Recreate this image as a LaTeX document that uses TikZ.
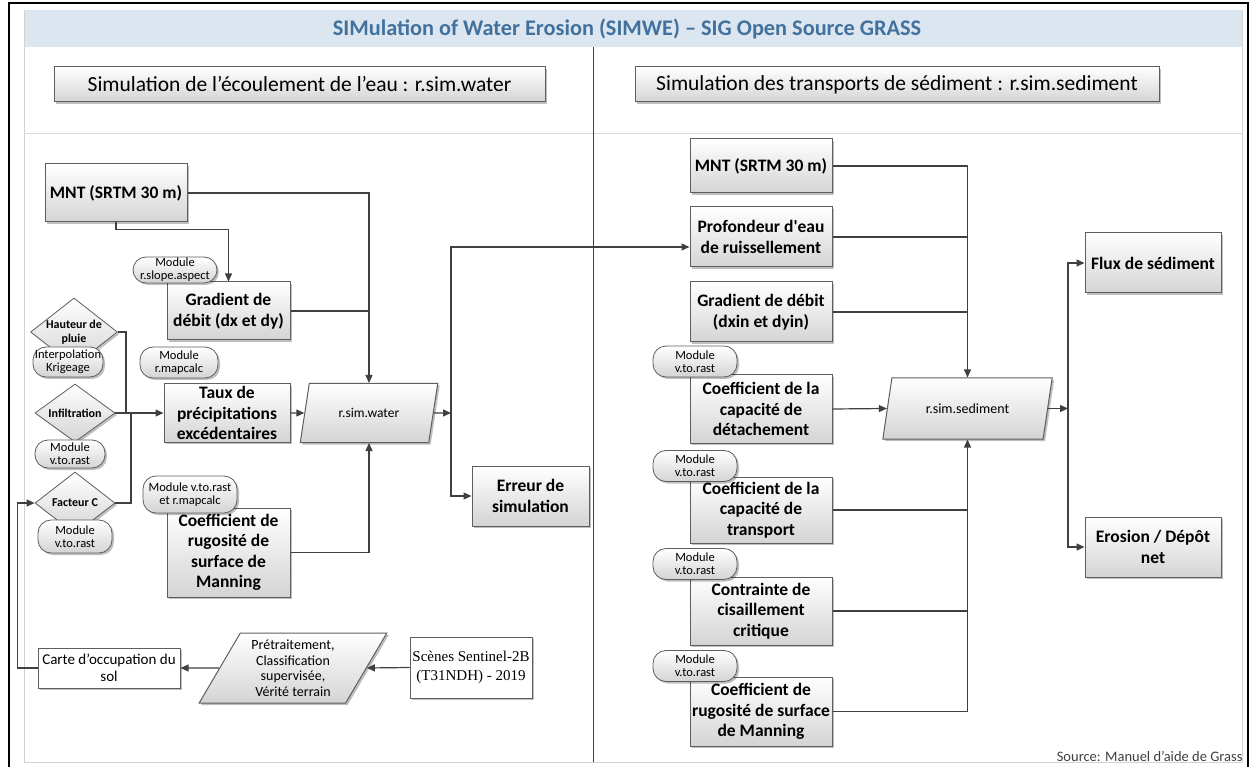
\documentclass[tikz,border=0pt]{standalone}
\usepackage{fontspec}
\setmainfont{Carlito}
\newfontfamily\scenefont{Liberation Serif}
\usepackage[dvipsnames]{xcolor}
\usepackage{tikz}
\usetikzlibrary{arrows.meta, shapes.geometric, shadows}

\definecolor{edgegray}{HTML}{5E5E5E}
\definecolor{wiregray}{HTML}{404040}
\definecolor{bandblue}{HTML}{DCE6F0}
\definecolor{titleblue}{HTML}{41719C}
\definecolor{lowgray}{HTML}{D4D4D4}

\tikzset{
  greyfill/.style={top color=white, bottom color=lowgray},
  lift/.style={drop shadow={shadow xshift=2pt, shadow yshift=-2pt, opacity=0.25, fill=black}},
  box/.style={draw=edgegray, line width=1pt, greyfill, lift, align=center, inner sep=0pt,
    font=\bfseries\fontsize{17.5}{20.5}\selectfont},
  headbox/.style={draw=edgegray, line width=1pt, greyfill, lift, inner sep=0pt,
    minimum height=35, font=\fontsize{21.5}{24}\selectfont},
  plainbox/.style={draw=edgegray, line width=1pt, fill=white, lift, align=center, inner sep=0pt},
  module/.style={draw=edgegray, line width=0.8pt, greyfill, lift, rounded corners=13pt,
    align=center, inner sep=0pt, font=\fontsize{12.5}{13}\selectfont},
  choice/.style={diamond, aspect=1.3, draw=edgegray, line width=0.8pt, greyfill, lift,
    align=center, inner sep=0pt, font=\bfseries\fontsize{12}{13.5}\selectfont},
  slanted/.style={trapezium, trapezium stretches=true, draw=edgegray, line width=1pt,
    greyfill, lift, align=center, inner sep=0pt},
  link/.style={draw=wiregray, line width=1.2pt},
  >={Triangle[length=8pt, width=7pt]}
}

\begin{document}
\begin{tikzpicture}[x=1pt, y=-1pt]
    \useasboundingbox (0, 0) rectangle (1251, 767);
    \fill [white] (0, 0) rectangle (1251, 767);

    \draw [gray!35, fill=white] (24, 10) rectangle (1242, 762);
    \fill [bandblue] (24.5, 10.5) rectangle (1241.5, 47);
    \draw [gray!30] (24, 133) -- (1242, 133);
    \draw [wiregray, line width=1pt] (593, 47) -- (593, 762);
    \draw [black, line width=2.5pt] (9, 767) -- (9, 3) -- (1248, 3) -- (1248, 767);

    \node [font=\bfseries\fontsize{22.3}{25}\selectfont, text=titleblue] (title) at (627, 29) {SIMulation of Water Erosion (SIMWE) – SIG Open Source GRASS};
    \node [headbox, minimum width=491] (headwater) at (299.5, 84.5) {Simulation de l’écoulement de l’eau : r.sim.water};
    \node [headbox, minimum width=524] (headsed) at (897, 84.5) {Simulation des transports de sédiment : r.sim.sediment};

    % r.sim.water
    \node [box, minimum width=142, minimum height=58] (mntw) at (116, 193) {MNT (SRTM 30 m)};
    \node [box, minimum width=123, minimum height=58] (gradw) at (228.5, 311) {Gradient de\\débit (dx et dy)};
    \node [box, minimum width=126, minimum height=58] (tauxw) at (227, 413) {Taux de\\précipitations\\excédentaires};
    \node [box, minimum width=123, minimum height=89] (coefw) at (228.5, 552.5) {Coefficient de\\rugosité de\\surface de\\Manning};
    \node [slanted, trapezium left angle=64, trapezium right angle=116, minimum width=138, minimum height=59,
        font=\fontsize{13.5}{15}\selectfont] (rsw) at (369, 413) {r.sim.water};
    \node [box, minimum width=117, minimum height=60] (erreur) at (530.5, 496) {Erreur de\\simulation};

    \node [choice, minimum width=82, minimum height=68] (hauteur) at (74, 332) {Hauteur de\\pluie};
    \node [choice, minimum width=80, minimum height=58] (infil) at (75, 413) {Infiltration};
    \node [choice, minimum width=80, minimum height=62] (facteur) at (75, 503) {Facteur C};

    \node [plainbox, minimum width=142, minimum height=40, font=\fontsize{15}{17}\selectfont] (carte) at (109, 668) {Carte d’occupation du\\sol};
    \node [slanted, trapezium left angle=60, trapezium right angle=120, minimum width=188, minimum height=70,
        font=\fontsize{14}{15.5}\selectfont] (pretrait) at (293, 668) {Prétraitement,\\Classification\\supervisée,\\Vérité terrain};
    \node [plainbox, minimum width=122, minimum height=61, font=\scenefont\fontsize{15}{19}\selectfont] (scenes) at (471, 667.5) {Scènes Sentinel-2B\\(T31NDH) - 2019};

    \coordinate (jh) at (126, 413);
    \coordinate (jf) at (131, 413);
    \coordinate (jw) at (451, 413);

    \draw [link, ->] (mntw.east) -| (rsw.north);
    \draw [link, ->] (mntw.south) -- ++(0, 7) -| (gradw.north);
    \draw [link] (gradw.east) -- (rsw.north |- gradw.east);
    \draw [link, ->] (coefw.east) -| (rsw.south);
    \draw [link, ->] (tauxw.east) -- (rsw.west);
    \draw [link, ->] (infil.east) -- (tauxw.west);
    \draw [link] (hauteur.east) -| (jh);
    \draw [link] (facteur.east) -| (jf);
    \draw [link, ->] (carte.west) -- ++(-20, 0) |- (facteur.west);
    \draw [link, ->] (pretrait.west) -- (carte.east);
    \draw [link, ->] (scenes.west) -- (pretrait.east);
    \draw [link, ->] (rsw.east) -- (jw);
    \draw [link, ->] (jw) |- (erreur.west);

    \node [module, minimum width=84, minimum height=26] (modslope) at (175, 270) {Module\\r.slope.aspect};
    \node [module, minimum width=78, minimum height=31] (modcalc) at (179, 362.5) {Module\\r.mapcalc};
    \node [module, minimum width=70, minimum height=30] (modkrig) at (68, 362) {Interpolation\\Krigeage};
    \node [module, minimum width=70, minimum height=28] (modinfil) at (70, 454) {Module\\v.to.rast};
    \node [module, minimum width=74, minimum height=33] (modfact) at (75, 536.5) {Module\\v.to.rast};
    \node [module, minimum width=94, minimum height=37] (modrug) at (190, 494.5) {Module v.to.rast\\et r.mapcalc};

    % r.sim.sediment
    \node [box, minimum width=142, minimum height=54] (mnts) at (761, 166) {MNT (SRTM 30 m)};
    \node [box, minimum width=142, minimum height=60] (prof) at (761, 237) {Profondeur d\textquotesingle eau\\de ruissellement};
    \node [box, minimum width=142, minimum height=60] (grads) at (761, 312) {Gradient de débit\\(dxin et dyin)};
    \node [box, minimum width=142, minimum height=68] (detach) at (761, 409) {Coefficient de la\\capacité de\\détachement};
    \node [box, minimum width=142, minimum height=66] (transp) at (761, 510) {Coefficient de la\\capacité de\\transport};
    \node [box, minimum width=142, minimum height=68] (contr) at (761, 611) {Contrainte de\\cisaillement\\critique};
    \node [box, minimum width=142, minimum height=69] (rugs) at (761, 711.5) {Coefficient de\\rugosité de surface\\de Manning};
    \node [slanted, trapezium left angle=63, trapezium right angle=117, minimum width=171, minimum height=61,
        font=\fontsize{14}{15}\selectfont] (rss) at (967.5, 408.5) {r.sim.sediment};
    \node [box, minimum width=136, minimum height=60] (flux) at (1153, 263) {Flux de sédiment};
    \node [box, minimum width=136, minimum height=60] (erosion) at (1153, 547) {Erosion / Dépôt\\net};

    \coordinate (js) at (1068, 408.5);

    \foreach \n in {mnts, prof, grads}
        \draw [link] (\n.east) -- (rss.north |- \n.east);
    \draw [link, ->] (mnts.east) -| (rss.north);
    \foreach \n in {transp, contr}
        \draw [link] (\n.east) -- (rss.south |- \n.east);
    \draw [link, ->] (rugs.east) -| (rss.south);
    \draw [link, ->] (detach.east) -- (rss.west);
    \draw [link, ->] (rss.east) -- (js);
    \draw [link, ->] (js) |- (flux.west);
    \draw [link, ->] (js) |- (erosion.west);
    \draw [link, ->] (jw) |- ([yshift=-10pt]prof.west);

    \foreach \y/\n in {361.5/modr1, 466/modr2, 564/modr3, 666/modr4}
        \node [module, minimum width=84, minimum height=31] (\n) at (695, \y) {Module\\v.to.rast};

    \node [anchor=east, text=wiregray, font=\fontsize{14.5}{16}\selectfont] (source) at (1246, 756) {Source: Manuel d’aide de Grass};

\end{tikzpicture}
\end{document}
